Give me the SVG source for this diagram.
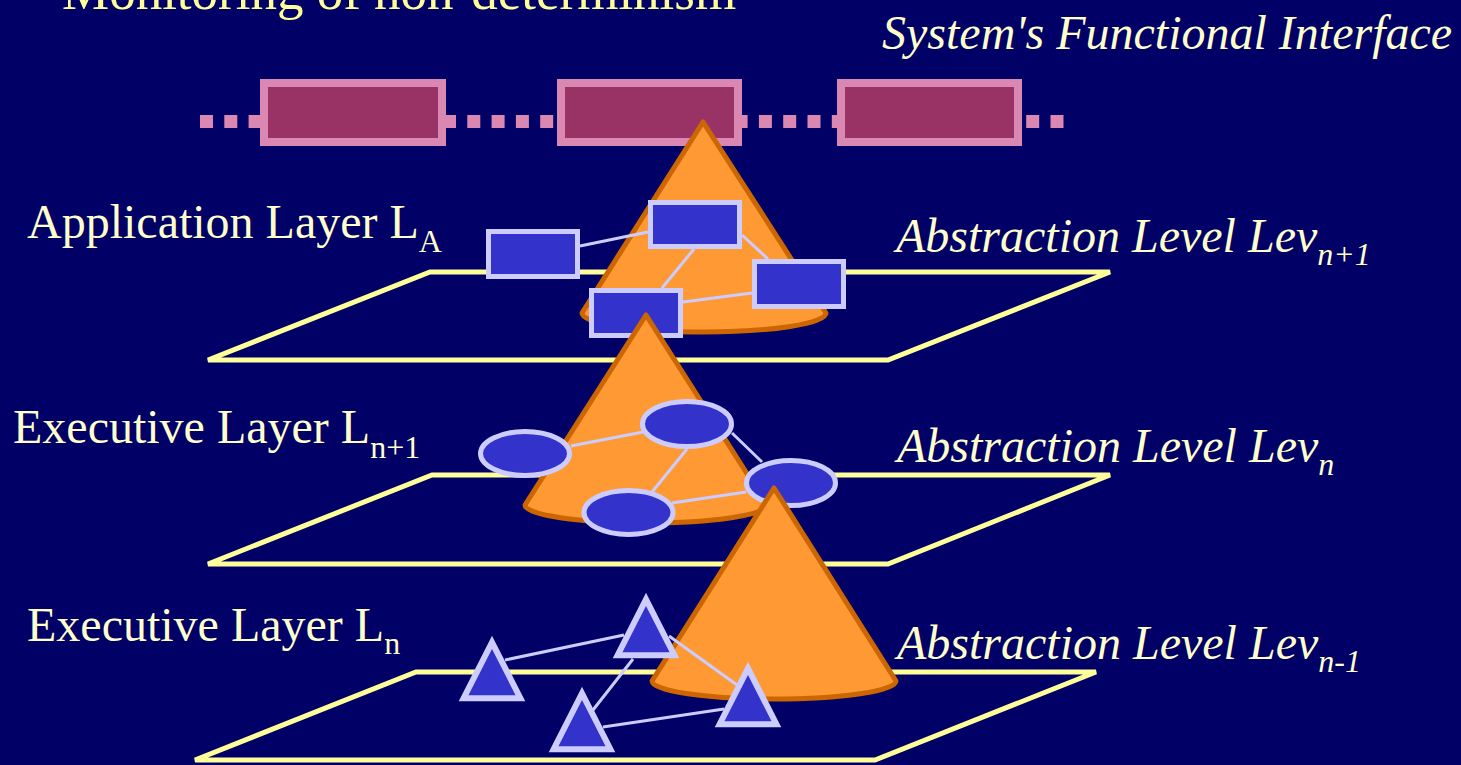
<svg xmlns="http://www.w3.org/2000/svg" width="1461" height="765" viewBox="0 0 1461 765">
<style>
.lbl{font-family:"Liberation Serif","Times New Roman",serif;font-size:48px;fill:#FFFFCC}
.it{font-style:italic}
.sub{font-size:32px}
.plane{fill:none;stroke:#FFFF99;stroke-width:5}
.cone{fill:#FF9933;stroke:#CC6600;stroke-width:5;stroke-linejoin:round}
.node{fill:#3333CC;stroke:#CCCCFF;stroke-width:5}
.tri{fill:#3333CC;stroke:#CCCCFF;stroke-width:6;stroke-linejoin:miter}
.link{stroke:#CCCCFF;stroke-width:3;fill:none}
.ibox{fill:#993366;stroke:#DA88B2;stroke-width:8}
</style>
<rect x="0" y="0" width="1461" height="765" fill="#000066"/>
<text x="62" y="9" class="lbl" style="font-size:53px;fill:#FFFF99">Monitoring of non-determinism</text>
<text x="882" y="49" class="lbl it">System's Functional Interface</text>

<g id="interface">
<line x1="200" y1="121.5" x2="1064" y2="121.5" stroke="#DA88B2" stroke-width="13" stroke-dasharray="13 11.3"/>
<rect x="264" y="83" width="178" height="59" class="ibox"/>
<rect x="561" y="83" width="177" height="59" class="ibox"/>
<rect x="841" y="83" width="177" height="59" class="ibox"/>
</g>

<g id="labels">
<text x="27" y="238" class="lbl">Application Layer L<tspan class="sub" dy="14">A</tspan></text>
<text x="13" y="443" class="lbl">Executive Layer L<tspan class="sub" dy="15">n+1</tspan></text>
<text x="27" y="641" class="lbl">Executive Layer L<tspan class="sub" dy="13">n</tspan></text>
<text x="896" y="252" class="lbl it">Abstraction Level Lev<tspan class="sub" dy="13">n+1</tspan></text>
<text x="897" y="462" class="lbl it">Abstraction Level Lev<tspan class="sub" dy="13">n</tspan></text>
<text x="897" y="659" class="lbl it">Abstraction Level Lev<tspan class="sub" dy="13">n-1</tspan></text>
</g>

<!-- Layer A -->
<polygon id="plane-A" class="plane" points="430,272 1110,272 888,360 208,360"/>
<path id="cone-A" class="cone" d="M582,313 L703,122 L826,313 A122 19 0 0 1 582,313 Z"/>
<g id="connectors-A">
<line class="link" x1="580" y1="246" x2="648" y2="232"/>
<line class="link" x1="694" y1="249" x2="662" y2="288"/>
<line class="link" x1="742" y1="235" x2="768" y2="259"/>
<line class="link" x1="683" y1="302" x2="752" y2="293"/>
</g>
<g id="rect-1"><rect class="node" x="488.5" y="231.5" width="89" height="45"/></g>
<g id="rect-2"><rect class="node" x="650.5" y="202.5" width="89" height="44"/></g>
<g id="rect-3"><rect class="node" x="754.5" y="261.5" width="89" height="45"/></g>
<g id="rect-4"><rect class="node" x="591.5" y="290.5" width="89" height="45"/></g>

<!-- Layer n+1 -->
<polygon id="plane-n1" class="plane" points="432,475 1110,475 888,564 208,564"/>
<path id="cone-n1" class="cone" d="M525,505 L646,315 L767,505 A121 18 0 0 1 525,505 Z"/>
<g id="connectors-n1">
<line class="link" x1="571" y1="446" x2="643" y2="432"/>
<line class="link" x1="687" y1="449" x2="652" y2="492"/>
<line class="link" x1="732" y1="433" x2="762" y2="462"/>
<line class="link" x1="672" y1="503" x2="746" y2="492"/>
</g>
<g id="ellipse-1"><ellipse class="node" cx="525" cy="453.5" rx="44.5" ry="22"/></g>
<g id="ellipse-2"><ellipse class="node" cx="687" cy="424" rx="44.5" ry="22.5"/></g>
<g id="ellipse-3"><ellipse class="node" cx="791" cy="483" rx="44.5" ry="22.5"/></g>
<g id="ellipse-4"><ellipse class="node" cx="628.5" cy="512.5" rx="44.5" ry="22"/></g>

<!-- Layer n -->
<polygon id="plane-n" class="plane" points="416,672 1096,672 875,760 195,760"/>
<path id="cone-n" class="cone" d="M652,681 L774,488 L896,681 A122 18 0 0 1 652,681 Z"/>
<g id="connectors-n">
<line class="link" x1="505" y1="660" x2="624" y2="635"/>
<line class="link" x1="633" y1="659" x2="593" y2="710"/>
<line class="link" x1="669" y1="636" x2="737" y2="685"/>
<line class="link" x1="603" y1="727" x2="724" y2="709"/>
</g>
<g id="tri-1"><polygon class="tri" points="492,642.3 520.4,698.2 463.6,698.2"/></g>
<g id="tri-2"><polygon class="tri" points="646,599.3 674.4,655.2 617.6,655.2"/></g>
<g id="tri-3"><polygon class="tri" points="582,693.3 610.4,749.2 553.6,749.2"/></g>
<g id="tri-4"><polygon class="tri" points="748,668.3 776.4,724.2 719.6,724.2"/></g>
</svg>
